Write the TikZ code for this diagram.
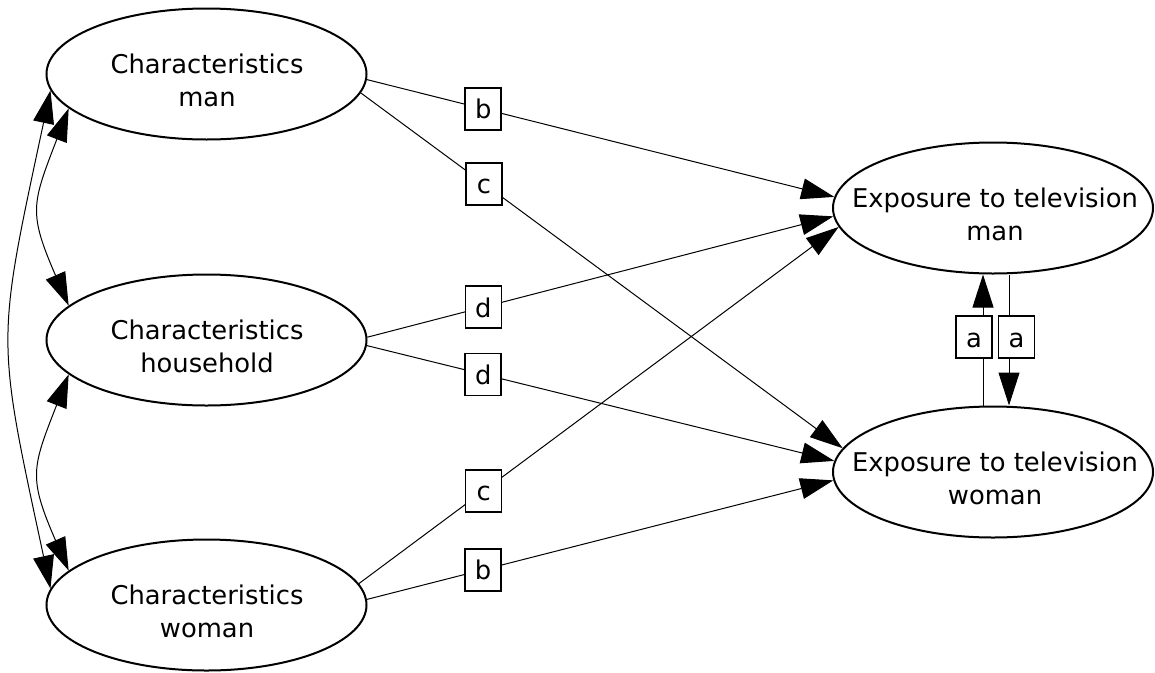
\documentclass[tikz,border=0pt]{standalone}
\usepackage{fontspec}
\setmainfont{DejaVu Sans}
\usetikzlibrary{shapes.geometric,arrows.meta}
\begin{document}
\begin{tikzpicture}[x=1pt,y=-1pt,
  font=\fontsize{25.8pt}{33pt}\selectfont,
  ell/.style={ellipse,draw,line width=2pt,minimum width=320pt,minimum height=131pt,inner sep=0pt},
  txt/.style={align=center,inner sep=0pt},
  lbl/.style={draw,fill=white,line width=1.6pt,minimum width=36pt,minimum height=42pt,inner sep=0pt,text height=20pt,text depth=0pt},
  conn/.style={line width=1pt,-{Triangle[length=33pt,width=21pt]}},
  bidir/.style={line width=1pt,{Triangle[length=33pt,width=21pt]}-{Triangle[length=33pt,width=21pt]}},
]
\useasboundingbox (0,0) rectangle (1155,672);
% ellipses
\node[ell] (cm) at (206.5,74) {};
\node[ell] (ch) at (206.5,340) {};
\node[ell] (cw) at (206.5,605) {};
\node[ell] (em) at (993,208) {};
\node[ell] (ew) at (993,472) {};
\node[txt] (cmt) at (207,80.7) {Characteristics\\man};
\node[txt] (cht) at (207,346.7) {Characteristics\\household};
\node[txt] (cwt) at (207,611.7) {Characteristics\\woman};
\node[txt] (emt) at (995,214.7) {Exposure to television\\man};
\node[txt] (ewt) at (995,478.7) {Exposure to television\\woman};
% straight edges with labels
\draw[conn] (cm.-2.84) -- node[lbl,pos=0.249] (b1) {b} (em.176.4);
\draw[conn] (cm.-7.28) -- node[lbl,pos=0.2555] (c1) {c} (ew.171.9);
\draw[conn] (ch.1.78) -- node[lbl,pos=0.249] (d1) {d} (em.-177.1);
\draw[conn] (ch.-2.49) -- node[lbl,pos=0.249] (d2) {d} (ew.176.4);
\draw[conn] (cw.8.3) -- node[lbl,pos=0.26] (c2) {c} (em.-173);
\draw[conn] (cw.2.13) -- node[lbl,pos=0.249] (b2) {b} (ew.-177.1);
% vertical edges between exposures
\draw[conn] ([xshift=-10pt]ew.north) -- ([xshift=-10pt]em.south);
\draw[conn] ([xshift=16pt]em.south) -- ([xshift=16pt]ew.north);
\node[lbl] (a1) at (974,337) {a};
\node[lbl] (a2) at (1016.5,337) {a};
% curved bidirectional edges
\draw[bidir] (cm.194) .. controls (32,204) and (28,212) .. (ch.166);
\draw[bidir] (ch.194) .. controls (32,468) and (28,477) .. (cw.166);
\draw[bidir] (cm.186) .. controls (-4,345) and (-4,335) .. (cw.174);
\end{tikzpicture}
\end{document}
